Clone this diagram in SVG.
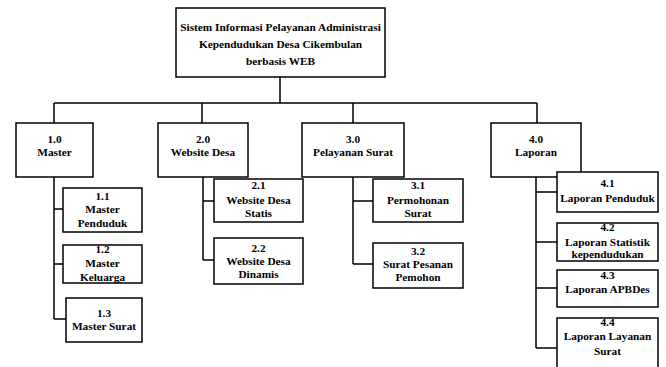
<svg xmlns="http://www.w3.org/2000/svg" width="666" height="367" viewBox="0 0 666 367">
<style>
rect{fill:#fff;stroke:#000;stroke-width:1.5}
.c path{fill:none;stroke:#000;stroke-width:1.5}
text{font-family:"Liberation Serif","Times New Roman",serif;font-weight:bold;font-size:11.3px;text-anchor:middle;fill:#000}
</style>
<rect x="0" y="0" width="666" height="367" style="stroke:none"/>
<g class="c" id="connectors">
<path d="M280 77V103M54 103H537M54 103V123M202 103V123M353 103V123M537 103V123"/>
<path d="M54 177V319M54 209H63M54 264H63M54 319H66"/>
<path d="M203 177V260M203 201H214M203 260H214"/>
<path d="M353 177V264M353 201H373M353 264H373"/>
<path d="M536 177V348M536 192H557M536 242H557M536 288H557M536 348H557"/>
</g>
<g id="n0"><rect x="176" y="8" width="209" height="69"/><text x="280.5" y="31">Sistem Informasi Pelayanan Administrasi</text><text x="280.5" y="48">Kependudukan Desa Cikembulan</text><text x="280.5" y="65">berbasis WEB</text></g>
<g id="n1"><rect x="16" y="123" width="77" height="54"/><text x="54.5" y="143">1.0</text><text x="54.5" y="156">Master</text></g>
<g id="n2"><rect x="158" y="123" width="90" height="54"/><text x="203" y="143">2.0</text><text x="203" y="156">Website Desa</text></g>
<g id="n3"><rect x="302" y="123" width="102" height="54"/><text x="353" y="143">3.0</text><text x="353" y="156">Pelayanan Surat</text></g>
<g id="n4"><rect x="491" y="123" width="90" height="54"/><text x="536" y="143">4.0</text><text x="536" y="156">Laporan</text></g>
<g id="n11"><rect x="63" y="188" width="79" height="44"/><text x="102.5" y="200">1.1</text><text x="102.5" y="213">Master</text><text x="102.5" y="227">Penduduk</text></g>
<g id="n12"><rect x="63" y="245" width="79" height="38"/><text x="102.5" y="253">1.2</text><text x="102.5" y="267">Master</text><text x="102.5" y="281">Keluarga</text></g>
<g id="n13"><rect x="66" y="298" width="76" height="44"/><text x="104" y="317">1.3</text><text x="104" y="330">Master Surat</text></g>
<g id="n21"><rect x="214" y="179" width="89" height="43"/><text x="258.5" y="189">2.1</text><text x="258.5" y="204">Website Desa</text><text x="258.5" y="217">Statis</text></g>
<g id="n22"><rect x="214" y="238" width="89" height="46"/><text x="258.5" y="252">2.2</text><text x="258.5" y="265">Website Desa</text><text x="258.5" y="278">Dinamis</text></g>
<g id="n31"><rect x="373" y="179" width="90" height="43"/><text x="418" y="189">3.1</text><text x="418" y="204">Permohonan</text><text x="418" y="217">Surat</text></g>
<g id="n32"><rect x="373" y="243" width="90" height="45"/><text x="418" y="255">3.2</text><text x="418" y="268">Surat Pesanan</text><text x="418" y="281">Pemohon</text></g>
<g id="n41"><rect x="557" y="172" width="101" height="40"/><text x="607.5" y="187">4.1</text><text x="607.5" y="202">Laporan Penduduk</text></g>
<g id="n42"><rect x="557" y="223" width="101" height="38"/><text x="607.5" y="231">4.2</text><text x="607.5" y="246">Laporan Statistik</text><text x="607.5" y="258">kependudukan</text></g>
<g id="n43"><rect x="557" y="270" width="101" height="37"/><text x="607.5" y="279">4.3</text><text x="607.5" y="293">Laporan APBDes</text></g>
<g id="n44"><rect x="557" y="318" width="101" height="60"/><text x="607.5" y="326">4.4</text><text x="607.5" y="340">Laporan Layanan</text><text x="607.5" y="355">Surat</text></g>
</svg>
